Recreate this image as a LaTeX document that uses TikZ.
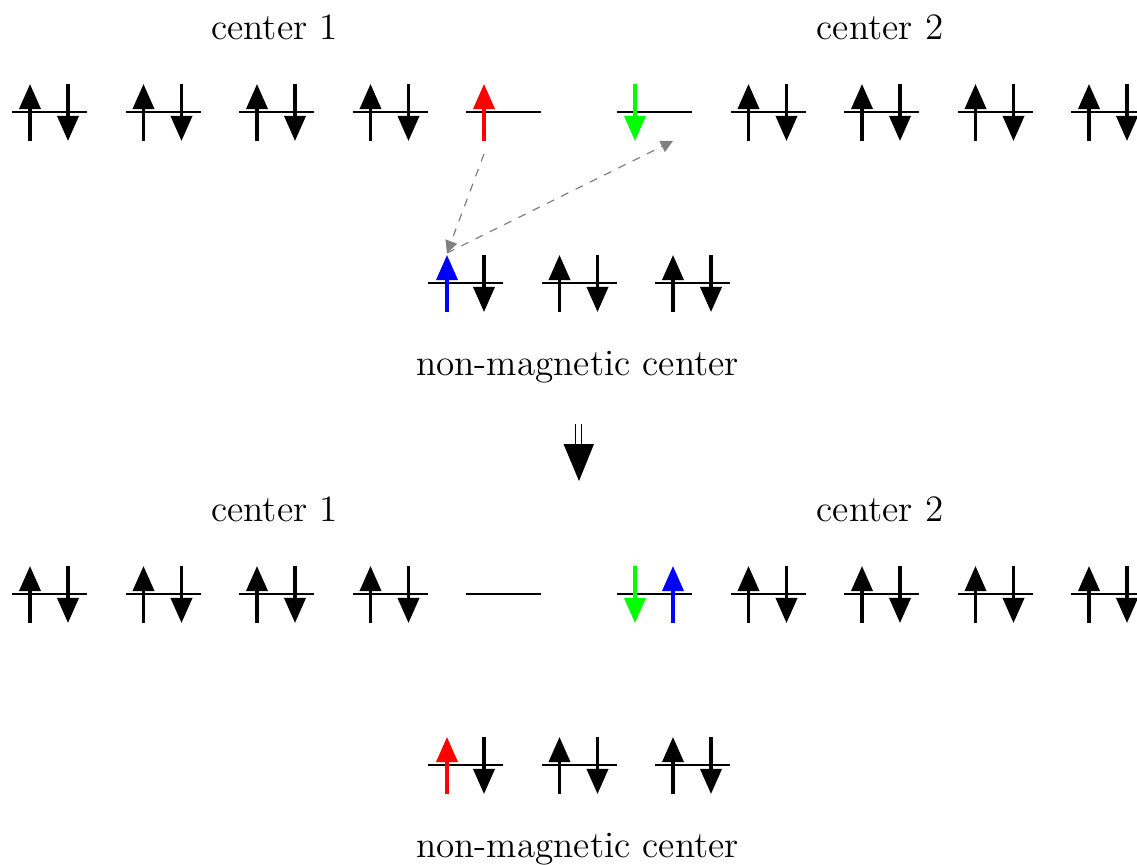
\documentclass[tikz,border=0pt]{standalone}
\usetikzlibrary{arrows.meta}
\newcommand\mylev[2]{\draw[lvl] (#1,#2) -- ++(75,0);}
\newcommand\myup[3]{\draw[spin,#3] (#1,#2+29) -- (#1,#2-28);}
\newcommand\mydn[3]{\draw[spin,#3] (#1,#2-28) -- (#1,#2+29);}
\newcommand\mypair[2]{\mylev{#1}{#2}\myup{#1+18}{#2}{black}\mydn{#1+56}{#2}{black}}
\begin{document}
\begin{tikzpicture}[x=0.013228cm,y=-0.013228cm,
  lvl/.style={line width=1pt},
  spin/.style={line width=1.3pt,-{Triangle[width=8pt,length=9.5pt]}},
  hop/.style={gray,dashed,line width=0.45pt,-{Triangle[width=4.6pt,length=4.6pt]}},
  lab/.style={font=\fontsize{14}{17}\selectfont,anchor=base,inner sep=0pt}]
\useasboundingbox (0,0) rectangle (1137,865);
\begin{scope}
\clip (0,0) rectangle (1137,865);

% ---------- top part ----------
\node[lab] (c1a) at (274.5,40) {center 1};
\node[lab] (c2a) at (880,40) {center 2};
\foreach \x in {12,125.5,239,352.5} {\mypair{\x}{112}}
\mylev{466}{112}\myup{484}{112}{red}
\mylev{617}{112}\mydn{635}{112}{green}
\foreach \x in {730.5,844,957.5,1071} {\mypair{\x}{112}}
\mylev{428}{283}\myup{447}{283}{blue}\mydn{484}{283}{black}
\foreach \x in {541.5,655} {\mypair{\x}{283}}
\node[lab] (nma) at (577.5,376) {non-magnetic center};

\coordinate (redtail) at (484,154);
\coordinate (bluetip) at (447,253);
\coordinate (target) at (673,141);
\draw[hop] (redtail) -- (bluetip);
\draw[hop] (bluetip) -- (target);

% ---------- big arrow ----------
\coordinate (bt) at (578.5,424);
\coordinate (bb) at (578.5,446);
\draw[line width=0.6pt,double,double distance=1.6pt] (bt) -- (bb);
\fill (563.5,444) -- (594,444) -- (579,481) -- cycle;

% ---------- bottom part ----------
\node[lab] (c1b) at (274.5,521) {center 1};
\node[lab] (c2b) at (880,521) {center 2};
\foreach \x in {12,125.5,239,352.5} {\mypair{\x}{594}}
\mylev{466}{594}
\mylev{617}{594}\mydn{635}{594}{green}\myup{673}{594}{blue}
\foreach \x in {730.5,844,957.5,1071} {\mypair{\x}{594}}
\mylev{428}{765}\myup{447}{765}{red}\mydn{484}{765}{black}
\foreach \x in {541.5,655} {\mypair{\x}{765}}
\node[lab] (nmb) at (577.5,857) {non-magnetic center};
\end{scope}
\end{tikzpicture}
\end{document}
